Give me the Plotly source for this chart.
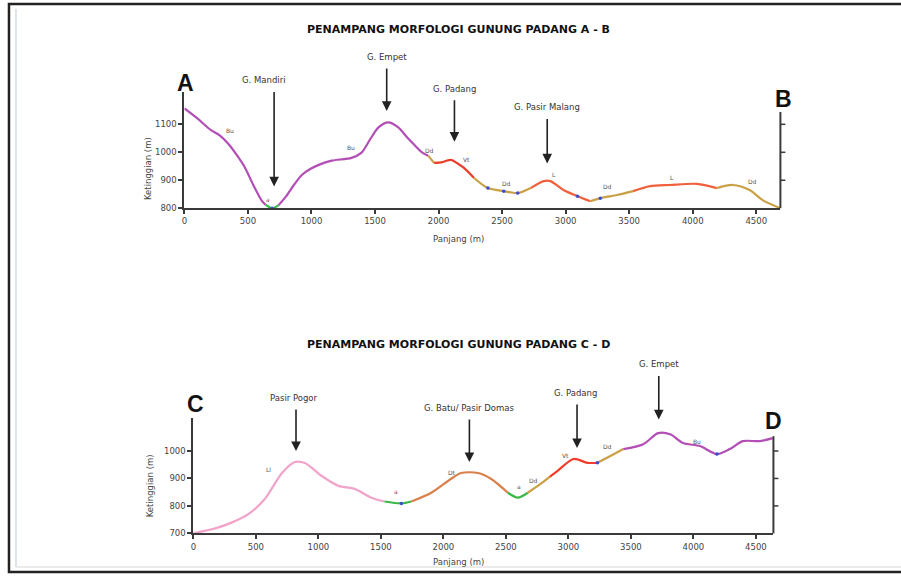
import plotly.graph_objects as go

W, H = 901, 579

# ---------------- Profile A - B ----------------
ab_dist = [0, 100, 204, 280, 352, 420, 478, 540, 611, 640, 690, 740, 800, 860, 924, 990,
           1057, 1159, 1315, 1394, 1460, 1527, 1605, 1683, 1750, 1809, 1870, 1918, 1965,
           2030, 2098, 2150, 2200, 2279, 2388, 2513, 2623, 2725, 2827, 2880, 2983, 3093,
           3195, 3273, 3406, 3531, 3665, 3821, 4033, 4189, 4315, 4448, 4550, 4690]
ab_elev = [1157, 1122, 1081, 1060, 1027, 985, 944, 885, 825, 812, 800, 810, 842, 882, 919, 940,
           955, 970, 980, 999, 1045, 1089, 1107, 1089, 1055, 1027, 1000, 988, 962,
           965, 973, 960, 944, 908, 872, 861, 854, 872, 897, 897, 865, 843,
           825, 836, 847, 861, 879, 883, 887, 872, 883, 865, 829, 800]
ab_seg_start = [0, 640, 740, 1918, 1965, 2279, 2725, 3195, 3531, 4189]
ab_seg_end = [640, 740, 1918, 1965, 2279, 2725, 3195, 3531, 4189, 4690]
ab_seg_color = ["#b24eb6", "#3cb846", "#b24eb6", "#c9a046", "#e8402c", "#c9a046",
                "#f0603c", "#c9a046", "#f0603c", "#c9a046"]
ab_dots = [690, 2388, 2513, 2623, 3093, 3273]
ab_units = ["Bu", "Bu", "a", "Dd", "Vt", "Dd", "L", "Dd", "L", "Dd"]
ab_unit_x = [360, 1308, 658, 1926, 2216, 2537, 2905, 3328, 3837, 4471]
ab_unit_y = [1078, 1017, 832, 1006, 973, 887, 919, 876, 908, 894]
ab_peaks = ["G. Mandiri", "G. Empet", "G. Padang", "G. Pasir Malang"]
ab_peak_x = [706, 1592, 2125, 2855]
ab_peak_y = [878, 1148, 1038, 960]
ab_peak_len = [96, 44, 43, 46]
ab_peak_dx = [-10, 0, 0, 0]

# ---------------- Profile C - D ----------------
cd_dist = [0, 175, 310, 446, 573, 709, 812, 892, 1027, 1162, 1290, 1425, 1529, 1664, 1744,
           1903, 2062, 2142, 2277, 2380, 2516, 2596, 2675, 2779, 2850, 2914, 3041, 3153,
           3232, 3336, 3439, 3599, 3718, 3814, 3917, 4053, 4188, 4291, 4395, 4530, 4634]
cd_elev = [700, 718, 740, 772, 826, 920, 960, 956, 909, 873, 862, 830, 816, 809, 816,
           848, 899, 920, 920, 899, 848, 830, 848, 881, 906, 928, 971, 957,
           957, 982, 1007, 1025, 1065, 1061, 1029, 1018, 989, 1007, 1036, 1036, 1047]
cd_seg_start = [0, 1529, 1744, 2516, 2675, 2850, 3232, 3439]
cd_seg_end = [1529, 1744, 2516, 2675, 2850, 3232, 3439, 4634]
cd_seg_color = ["#f2a3c9", "#3cb846", "#d9804c", "#3cb846", "#c9a046", "#f03c28",
                "#c9a046", "#b24eb6"]
cd_dots = [1664, 3232, 4188]
cd_units = ["Ll", "a", "Dt", "a", "Dd", "Vt", "Dd", "Bu"]
cd_unit_x = [605, 1624, 2070, 2603, 2723, 2978, 3312, 4028]
cd_unit_y = [931, 852, 920, 870, 891, 982, 1018, 1036]
cd_peaks = ["Pasir Pogor", "G. Batu/ Pasir Domas", "G. Padang", "G. Empet"]
cd_peak_x = [821, 2208, 3069, 3723]
cd_peak_y = [1000, 960, 1011, 1115]
cd_peak_len = [43, 44, 45, 45]
cd_peak_dx = [-2, 0, -2, 0]

x_ticks = [0, 500, 1000, 1500, 2000, 2500, 3000, 3500, 4000, 4500]
ab_y_ticks = [800, 900, 1000, 1100]
cd_y_ticks = [700, 800, 900, 1000]

AXC = "#3a3a3a"
TXT = "#444444"
FONT = "DejaVu Sans"
BFONT = "Liberation Sans"

# subplot geometry (paper fractions)
AB_XDOM = [182 / W, 780 / W]
AB_YDOM = [1 - 210 / H, 1 - 93 / H]
AB_YR = [800, 1215]
CD_XDOM = [191 / W, 773 / W]
CD_YDOM = [1 - 538 / H, 1 - 422 / H]
CD_YR = [700, 1119]

fig = go.Figure()


def add_profile(dist, elev, s0, s1, cols, dots, xa, ya):
    for a, b, c in zip(s0, s1, cols):
        xs = [d for d in dist if a <= d <= b]
        ys = [e for d, e in zip(dist, elev) if a <= d <= b]
        fig.add_trace(go.Scatter(x=xs, y=ys, mode="lines", xaxis=xa, yaxis=ya,
                                 line=dict(color=c, width=2.2, shape="spline", smoothing=0.8),
                                 hoverinfo="skip", showlegend=False, cliponaxis=False))
    dx = [d for d in dist if d in dots]
    dy = [e for d, e in zip(dist, elev) if d in dots]
    fig.add_trace(go.Scatter(x=dx, y=dy, mode="markers", xaxis=xa, yaxis=ya,
                             marker=dict(color="#3a4fd0", size=3.5),
                             hoverinfo="skip", showlegend=False, cliponaxis=False))


add_profile(ab_dist, ab_elev, ab_seg_start, ab_seg_end, ab_seg_color, ab_dots, "x", "y")
add_profile(cd_dist, cd_elev, cd_seg_start, cd_seg_end, cd_seg_color, cd_dots, "x2", "y2")

ann = []
for xr, yr, names, px, py, ln, dxs in [("x", "y", ab_peaks, ab_peak_x, ab_peak_y, ab_peak_len, ab_peak_dx),
                                       ("x2", "y2", cd_peaks, cd_peak_x, cd_peak_y, cd_peak_len, cd_peak_dx)]:
    for n, x, y, l, d in zip(names, px, py, ln, dxs):
        ann.append(dict(x=x, y=y, xref=xr, yref=yr, text="", showarrow=True, ax=0, ay=-l,
                        arrowhead=2, arrowsize=1.2, arrowwidth=1.6, arrowcolor="#222222",
                        standoff=0, startstandoff=0))
        ann.append(dict(x=x, y=y, xref=xr, yref=yr, text=n, showarrow=False, xshift=d,
                        yshift=l + 3, xanchor="center", yanchor="bottom",
                        font=dict(family=FONT, size=8.5, color="#333333")))

for xr, yr, us, ux, uy in [("x", "y", ab_units, ab_unit_x, ab_unit_y),
                           ("x2", "y2", cd_units, cd_unit_x, cd_unit_y)]:
    for u, x, y in zip(us, ux, uy):
        ann.append(dict(x=x, y=y, xref=xr, yref=yr, text=u, showarrow=False,
                        xanchor="center", yanchor="middle",
                        font=dict(family=FONT, size=6, color="#555555")))

# big letters
for t, x, y in [("A", 183, 84), ("B", 783, 100), ("C", 193, 408), ("D", 773, 425)]:
    ann.append(dict(x=x / W, y=1 - y / H, xref="paper", yref="paper", text="<b>%s</b>" % t,
                    xanchor="center", yanchor="middle",
                    showarrow=False, font=dict(family=BFONT, size=23, color="#111111")))

# titles
for t, y in [("PENAMPANG MORFOLOGI GUNUNG PADANG A - B", 30), ("PENAMPANG MORFOLOGI GUNUNG PADANG C - D", 348)]:
    ann.append(dict(x=457 / W, y=1 - y / H, xref="paper", yref="paper", text="<b>%s</b>" % t,
                    xanchor="center", yanchor="middle",
                    showarrow=False, font=dict(family=FONT, size=11, color="#111111")))

# axis titles
for t, x, y, ang in [("Ketinggian (m)", 145, 170, -90), ("Panjang (m)", 457, 241, 0),
                     ("Ketinggian (m)", 147, 490, -90), ("Panjang (m)", 457, 567, 0)]:
    ann.append(dict(x=x / W, y=1 - y / H, xref="paper", yref="paper", text=t, textangle=ang,
                    xanchor="center", yanchor="middle",
                    showarrow=False, font=dict(family=FONT, size=8.5, color=TXT)))


def ypaper(v, dom, rng):
    return dom[0] + (v - rng[0]) / (rng[1] - rng[0]) * (dom[1] - dom[0])


shapes = []
# right-hand axes (decoration, placed in paper space so they are not clipped)
for xdom, ydom, yr, top, ticks in [(AB_XDOM, AB_YDOM, AB_YR, 1144, [900, 1000, 1100]),
                                   (CD_XDOM, CD_YDOM, CD_YR, 1054, [800, 900, 1000])]:
    xe = xdom[1]
    shapes.append(dict(type="line", xref="paper", yref="paper", x0=xe, x1=xe,
                       y0=ydom[0], y1=ypaper(top, ydom, yr), line=dict(color=AXC, width=2)))
    for tv in ticks:
        yy = ypaper(tv, ydom, yr)
        shapes.append(dict(type="line", xref="paper", yref="paper", x0=xe, x1=xe + 5 / W,
                           y0=yy, y1=yy, line=dict(color=AXC, width=1.5)))

# page frame
shapes.append(dict(type="rect", xref="paper", yref="paper", x0=6 / W, x1=1.02, y0=1 - 577 / H, y1=1 - 4 / H,
                   line=dict(color="#222222", width=2.5)))
shapes.append(dict(type="line", xref="paper", yref="paper", x0=13 / W, x1=13 / W, y0=1 - 572 / H, y1=1 - 9 / H,
                   line=dict(color="#dde5ea", width=2)))
shapes.append(dict(type="line", xref="paper", yref="paper", x0=13 / W, x1=1, y0=1 - 572 / H, y1=1 - 572 / H,
                   line=dict(color="#e4e4e4", width=1.5)))

axis_common = dict(showgrid=False, zeroline=False, showline=True, linecolor=AXC, linewidth=2,
                   ticks="outside", ticklen=4, tickwidth=1.5, tickcolor=AXC,
                   tickfont=dict(family=FONT, size=8.5, color=TXT), fixedrange=True)

fig.update_layout(
    width=W, height=H, margin=dict(l=0, r=0, t=0, b=0),
    paper_bgcolor="white", plot_bgcolor="white", showlegend=False,
    xaxis=dict(domain=AB_XDOM, range=[0, 4690], anchor="y", tickvals=x_ticks, **axis_common),
    yaxis=dict(domain=AB_YDOM, range=AB_YR, anchor="x", tickvals=ab_y_ticks, **axis_common),
    xaxis2=dict(domain=CD_XDOM, range=[0, 4640], anchor="y2", tickvals=x_ticks, **axis_common),
    yaxis2=dict(domain=CD_YDOM, range=CD_YR, anchor="x2", tickvals=cd_y_ticks, **axis_common),
    annotations=ann, shapes=shapes,
)

fig.write_html("out.html", config={"displayModeBar": False},
               post_script="document.body.style.margin='0';document.body.style.padding='0';")
